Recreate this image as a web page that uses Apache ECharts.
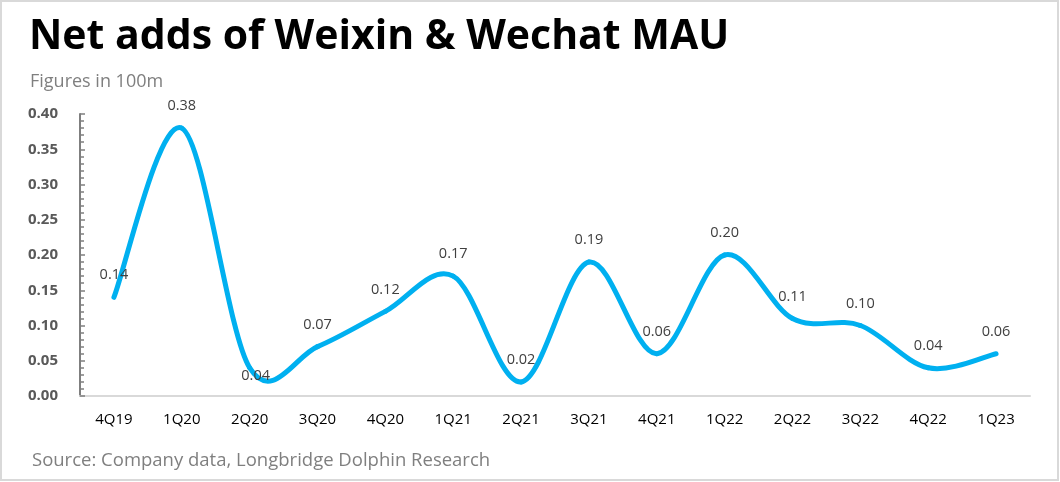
<!DOCTYPE html>
<html>
<head>
<meta charset="utf-8">
<script src="https://cdn.jsdelivr.net/npm/echarts@6/dist/echarts.min.js"></script>
<style>
html,body{margin:0;padding:0;background:#fff;}
#main{width:1060px;height:482px;}
</style>
</head>
<body>
<div id="main"></div>
<script>
const categories = ['4Q19','1Q20','2Q20','3Q20','4Q20','1Q21','2Q21','3Q21','4Q21','1Q22','2Q22','3Q22','4Q22','1Q23'];
const netAdds = [0.14, 0.38, 0.04, 0.07, 0.12, 0.17, 0.02, 0.19, 0.06, 0.20, 0.11, 0.10, 0.04, 0.06];
const titleText = 'Net adds of Weixin & Wechat MAU';
const unitText = 'Figures in 100m';
const sourceText = 'Source: Company data, Longbridge Dolphin Research';

const chart = echarts.init(document.getElementById('main'));
const n = netAdds.length;

function renderSeg(params, api) {
  const i = params.dataIndex;
  if (i >= n - 1) return null;
  const pt = k => { const j = Math.max(0, Math.min(n - 1, k)); return api.coord([j, netAdds[j]]); };
  const p0 = pt(i - 1), p1 = pt(i), p2 = pt(i + 1), p3 = pt(i + 2);
  return {
    type: 'bezierCurve',
    shape: {
      x1: p1[0], y1: p1[1], x2: p2[0], y2: p2[1],
      cpx1: p1[0] + (p2[0] - p0[0]) / 6, cpy1: p1[1] + (p2[1] - p0[1]) / 6,
      cpx2: p2[0] - (p3[0] - p1[0]) / 6, cpy2: p2[1] - (p3[1] - p1[1]) / 6
    },
    style: { stroke: '#00B0F0', lineWidth: 5, fill: null, lineCap: 'round' }
  };
}

const labelData = netAdds.map((v, i) => {
  if (i === 2) return { value: v, label: { position: 'bottom', distance: 0, offset: [6, 0] } };
  return { value: v };
});

chart.setOption({
  animation: false,
  backgroundColor: '#fff',
  graphic: [
    { type: 'rect', shape: { x: 1, y: 1, width: 1057, height: 479 }, style: { fill: null, stroke: '#d9d9d9', lineWidth: 2 }, silent: true },
    { type: 'text', left: 29, top: 17, style: { text: titleText, font: 'bold 41px "Open Sans"', fill: '#000' } },
    { type: 'text', left: 30, top: 73, style: { text: unitText, font: '18px "Open Sans"', fill: '#7f7f7f' } },
    { type: 'text', left: 32, top: 451, style: { text: sourceText, font: '18.5px "Open Sans"', fill: '#7f7f7f' } }
  ],
  grid: { left: 80, right: 30, top: 114, bottom: 86, containLabel: false },
  xAxis: {
    type: 'category',
    data: categories,
    boundaryGap: true,
    axisLine: { lineStyle: { color: '#d9d9d9', width: 2 } },
    axisTick: { show: false },
    axisLabel: { color: '#000', fontSize: 15, fontFamily: 'Open Sans', margin: 16, interval: 0 }
  },
  yAxis: {
    type: 'value',
    min: 0, max: 0.4, interval: 0.05,
    axisLine: { show: true, lineStyle: { color: '#7f7f7f', width: 2 } },
    axisTick: { show: true, inside: true, length: 5, lineStyle: { color: '#7f7f7f', width: 1.5 } },
    minorTick: { show: true, splitNumber: 5, length: 4, lineStyle: { color: '#7f7f7f', width: 1.5 } },
    splitLine: { show: false },
    axisLabel: { color: '#595959', fontSize: 15, fontWeight: 'bold', fontFamily: 'Open Sans', margin: 22, formatter: v => v.toFixed(2) }
  },
  series: [
    {
      type: 'custom',
      renderItem: renderSeg,
      data: netAdds.map((v, i) => [i, v]),
      encode: { x: 0, y: 1 },
      z: 3
    },
    {
      type: 'line',
      data: labelData,
      symbol: 'circle',
      symbolSize: 1,
      showSymbol: true,
      itemStyle: { color: 'rgba(0,0,0,0)' },
      lineStyle: { width: 0, opacity: 0 },
      label: {
        show: true, position: 'top', distance: 14,
        color: '#404040', fontSize: 14.5, fontFamily: 'Open Sans',
        formatter: p => Number(p.value).toFixed(2)
      },
      z: 4
    }
  ]
});
</script>
</body>
</html>
